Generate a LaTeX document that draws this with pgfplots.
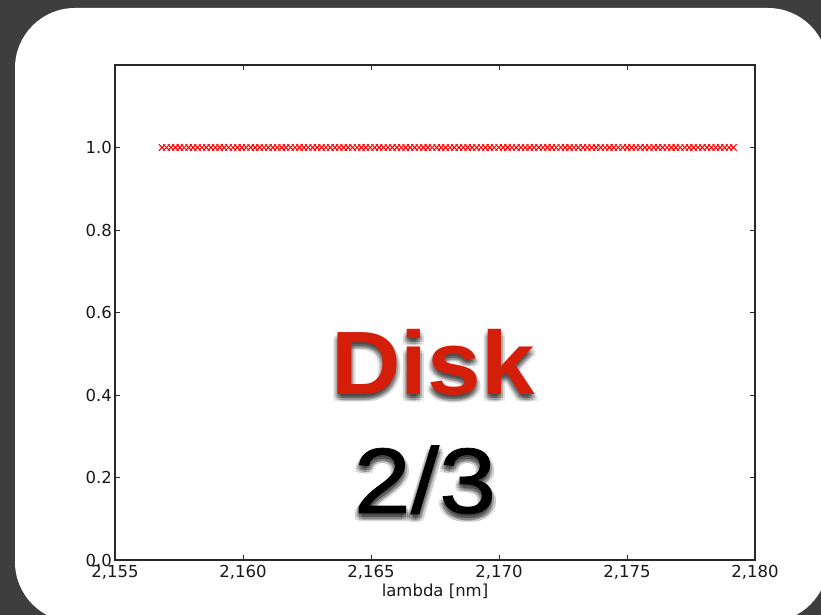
\documentclass[border=0pt]{standalone}
\usepackage{pgfplots}
\pgfplotsset{compat=1.18}
\usepackage{fontspec}
\setmainfont{DejaVu Sans}
\newfontfamily\helv{Liberation Sans}
\newfontfamily\helvmed[FakeBold=0.8]{Liberation Sans}
\definecolor{bg}{RGB}{62,62,62}
\definecolor{diskred}{RGB}{212,30,10}
\definecolor{spine}{RGB}{40,40,40}
\begin{document}
\begin{tikzpicture}[x=1pt,y=1pt]
\fill[bg] (0,0) rectangle (821,615);
\fill[white,rounded corners=60pt] (15,-7) rectangle (828,607);
\begin{axis}[
  at={(115pt,55pt)}, anchor=south west,
  scale only axis, width=640pt, height=495pt,
  xmin=2.155, xmax=2.18, ymin=0, ymax=1.2,
  xtick={2.155,2.16,2.165,2.17,2.175,2.18},
  xticklabels={{2,155},{2,160},{2,165},{2,170},{2,175},{2,180}},
  ytick={0,0.2,0.4,0.6,0.8,1.0},
  yticklabels={0.0,0.2,0.4,0.6,0.8,1.0},
  tick align=inside,
  xtick pos=both, ytick pos=both,
  major tick length=5pt,
  tick style={spine, line width=0.8pt},
  axis line style={spine, line width=1.3pt},
  ticklabel style={font=\fontsize{16.5}{18}\selectfont, text=black!90},
  xticklabel style={anchor=base, yshift=-18pt, inner sep=0pt},
  yticklabel style={anchor=east, xshift=-3pt, inner sep=0pt},
  xlabel={lambda [nm]},
  xlabel style={at={(axis description cs:0.5,0)}, anchor=base, yshift=-37pt, inner sep=0pt, font=\fontsize{16.5}{18}\selectfont, text=black!90},
  clip=false,
]
\addplot[only marks, mark=x, mark size=4.5pt, color=red, mark options={line width=1pt}] coordinates {
(2.156840,1) (2.157013,1) (2.157186,1) (2.157359,1) (2.157532,1) (2.157705,1) (2.157878,1) (2.158051,1)
(2.158224,1) (2.158397,1) (2.158570,1) (2.158743,1) (2.158916,1) (2.159089,1) (2.159262,1) (2.159435,1)
(2.159608,1) (2.159781,1) (2.159954,1) (2.160127,1) (2.160300,1) (2.160473,1) (2.160646,1) (2.160819,1)
(2.160992,1) (2.161165,1) (2.161338,1) (2.161511,1) (2.161684,1) (2.161857,1) (2.162030,1) (2.162203,1)
(2.162376,1) (2.162549,1) (2.162722,1) (2.162895,1) (2.163068,1) (2.163241,1) (2.163414,1) (2.163587,1)
(2.163760,1) (2.163933,1) (2.164106,1) (2.164279,1) (2.164452,1) (2.164625,1) (2.164798,1) (2.164971,1)
(2.165144,1) (2.165317,1) (2.165490,1) (2.165663,1) (2.165836,1) (2.166009,1) (2.166182,1) (2.166355,1)
(2.166528,1) (2.166701,1) (2.166874,1) (2.167047,1) (2.167220,1) (2.167393,1) (2.167566,1) (2.167739,1)
(2.167912,1) (2.168085,1) (2.168258,1) (2.168431,1) (2.168604,1) (2.168777,1) (2.168950,1) (2.169123,1)
(2.169296,1) (2.169469,1) (2.169642,1) (2.169815,1) (2.169988,1) (2.170161,1) (2.170334,1) (2.170507,1)
(2.170680,1) (2.170853,1) (2.171026,1) (2.171199,1) (2.171372,1) (2.171545,1) (2.171718,1) (2.171891,1)
(2.172064,1) (2.172237,1) (2.172410,1) (2.172583,1) (2.172756,1) (2.172929,1) (2.173102,1) (2.173275,1)
(2.173448,1) (2.173621,1) (2.173794,1) (2.173967,1) (2.174140,1) (2.174313,1) (2.174486,1) (2.174659,1)
(2.174832,1) (2.175005,1) (2.175178,1) (2.175351,1) (2.175524,1) (2.175697,1) (2.175870,1) (2.176043,1)
(2.176216,1) (2.176389,1) (2.176562,1) (2.176735,1) (2.176908,1) (2.177081,1) (2.177254,1) (2.177427,1)
(2.177600,1) (2.177773,1) (2.177946,1) (2.178119,1) (2.178292,1) (2.178465,1) (2.178638,1) (2.178811,1)
(2.178984,1) (2.179157,1)
};
\end{axis}
% drop shadows
\foreach \dx/\dy in {-2/-2,0/-2,2/-2,-2/-4,0/-4,2/-4,-2/-6,0/-6,2/-6,0/-8,-4/-4,4/-4,-4/-7,4/-7}{
  \node[anchor=base, inner sep=0pt, text=black, opacity=0.08, xscale=1.07, font=\helv\bfseries\fontsize{90}{90}\selectfont] at (433+\dx,220+\dy) {Disk};
  \node[anchor=base, inner sep=0pt, text=black, opacity=0.08, xscale=1.1, font=\helvmed\fontsize{93}{93}\selectfont] at (425+\dx,102+\dy) {2/3};
}
\node[anchor=base, inner sep=0pt, text=diskred, xscale=1.07, font=\helv\bfseries\fontsize{90}{90}\selectfont] at (433,220) {Disk};
\node[anchor=base, inner sep=0pt, text=black, xscale=1.1, font=\helvmed\fontsize{93}{93}\selectfont] at (425,102) {2/3};
\pgfresetboundingbox
\useasboundingbox (0,0) rectangle (821,615);
\end{tikzpicture}
\end{document}
